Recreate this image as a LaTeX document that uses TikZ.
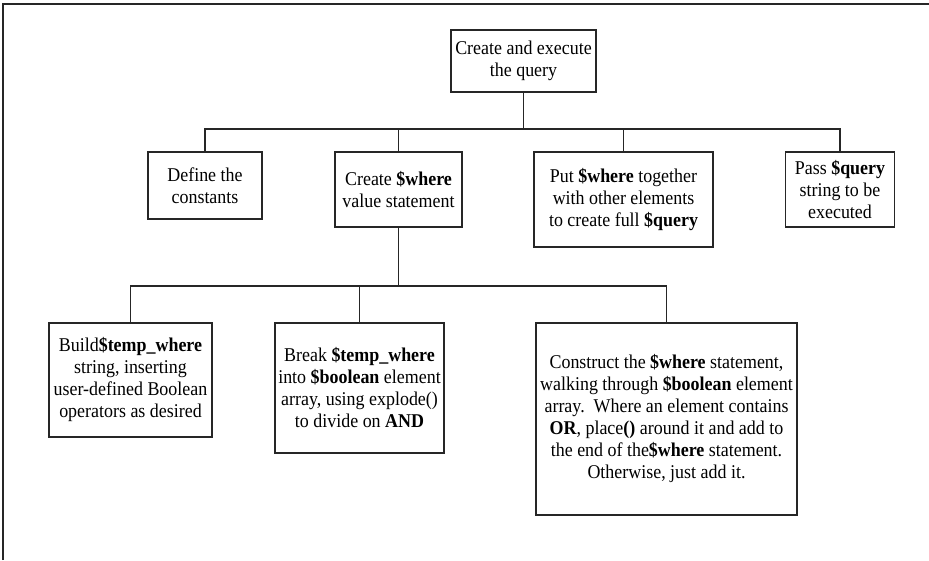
\documentclass[tikz,border=0pt]{standalone}
\usepackage{fontspec}
\setmainfont{Liberation Serif}[FakeStretch=0.92]
\begin{document}
\begin{tikzpicture}[x=1pt,y=-1pt,
  every node/.style={inner sep=0pt},
  taskbox/.style={draw=black!85, line width=1.6pt, align=center,
    font=\fontsize{19.5}{22}\selectfont},
  link/.style={draw=black!85, line width=1.6pt}]
\useasboundingbox (0,0) rectangle (929,560);
% frame edges along the top and left
\draw[black!85, line width=1.4pt] (3,560) -- (3,4) -- (929,4);

% top level
\node[taskbox, minimum width=145pt, minimum height=62pt] (top) at (523.5,61)
  {Create and execute\\the query};

% second level
\node[taskbox, minimum width=114pt, minimum height=67pt] (define) at (205,185.5)
  {Define the\\constants};
\node[taskbox, minimum width=127pt, minimum height=75pt] (create) at (398.5,189.5)
  {Create \textbf{\$where}\\value statement};
\node[taskbox, minimum width=179pt, minimum height=95pt] (put) at (623.5,199.5)
  {Put \textbf{\$where} together\\with other elements\\to create full \textbf{\$query}};
\node[taskbox, minimum width=109pt, minimum height=75pt] (pass) at (840,189.5)
  {Pass \textbf{\$query}\\string to be\\executed};

% third level
\node[taskbox, minimum width=163pt, minimum height=114pt] (build) at (130.5,380)
  {Build\textbf{\$temp\_where}\\string, inserting\\user-defined Boolean\\operators as desired};
\node[taskbox, minimum width=169pt, minimum height=130pt] (break) at (359.5,388)
  {Break \textbf{\$temp\_where}\\into \textbf{\$boolean} element\\array, using explode()\\to divide on \textbf{AND}};
\node[taskbox, minimum width=261pt, minimum height=192pt] (construct) at (666.5,419)
  {Construct the \textbf{\$where} statement,\\walking through \textbf{\$boolean} element\\array.\ \ Where an element contains\\\textbf{OR}, place\textbf{()} around it and add to\\the end of the\textbf{\$where} statement.\\Otherwise, just add it.};

% bus points
\coordinate (busA) at (top.south |- 0,129);
\coordinate (busB) at (create.south |- 0,286);

% connectors
\draw[link] (top.south) -- (busA);
\foreach \n in {define,create,put,pass}
  \draw[link] (busA) -| (\n.north);
\draw[link] (create.south) -- (busB);
\foreach \n in {build,break,construct}
  \draw[link] (busB) -| (\n.north);
\end{tikzpicture}
\end{document}
